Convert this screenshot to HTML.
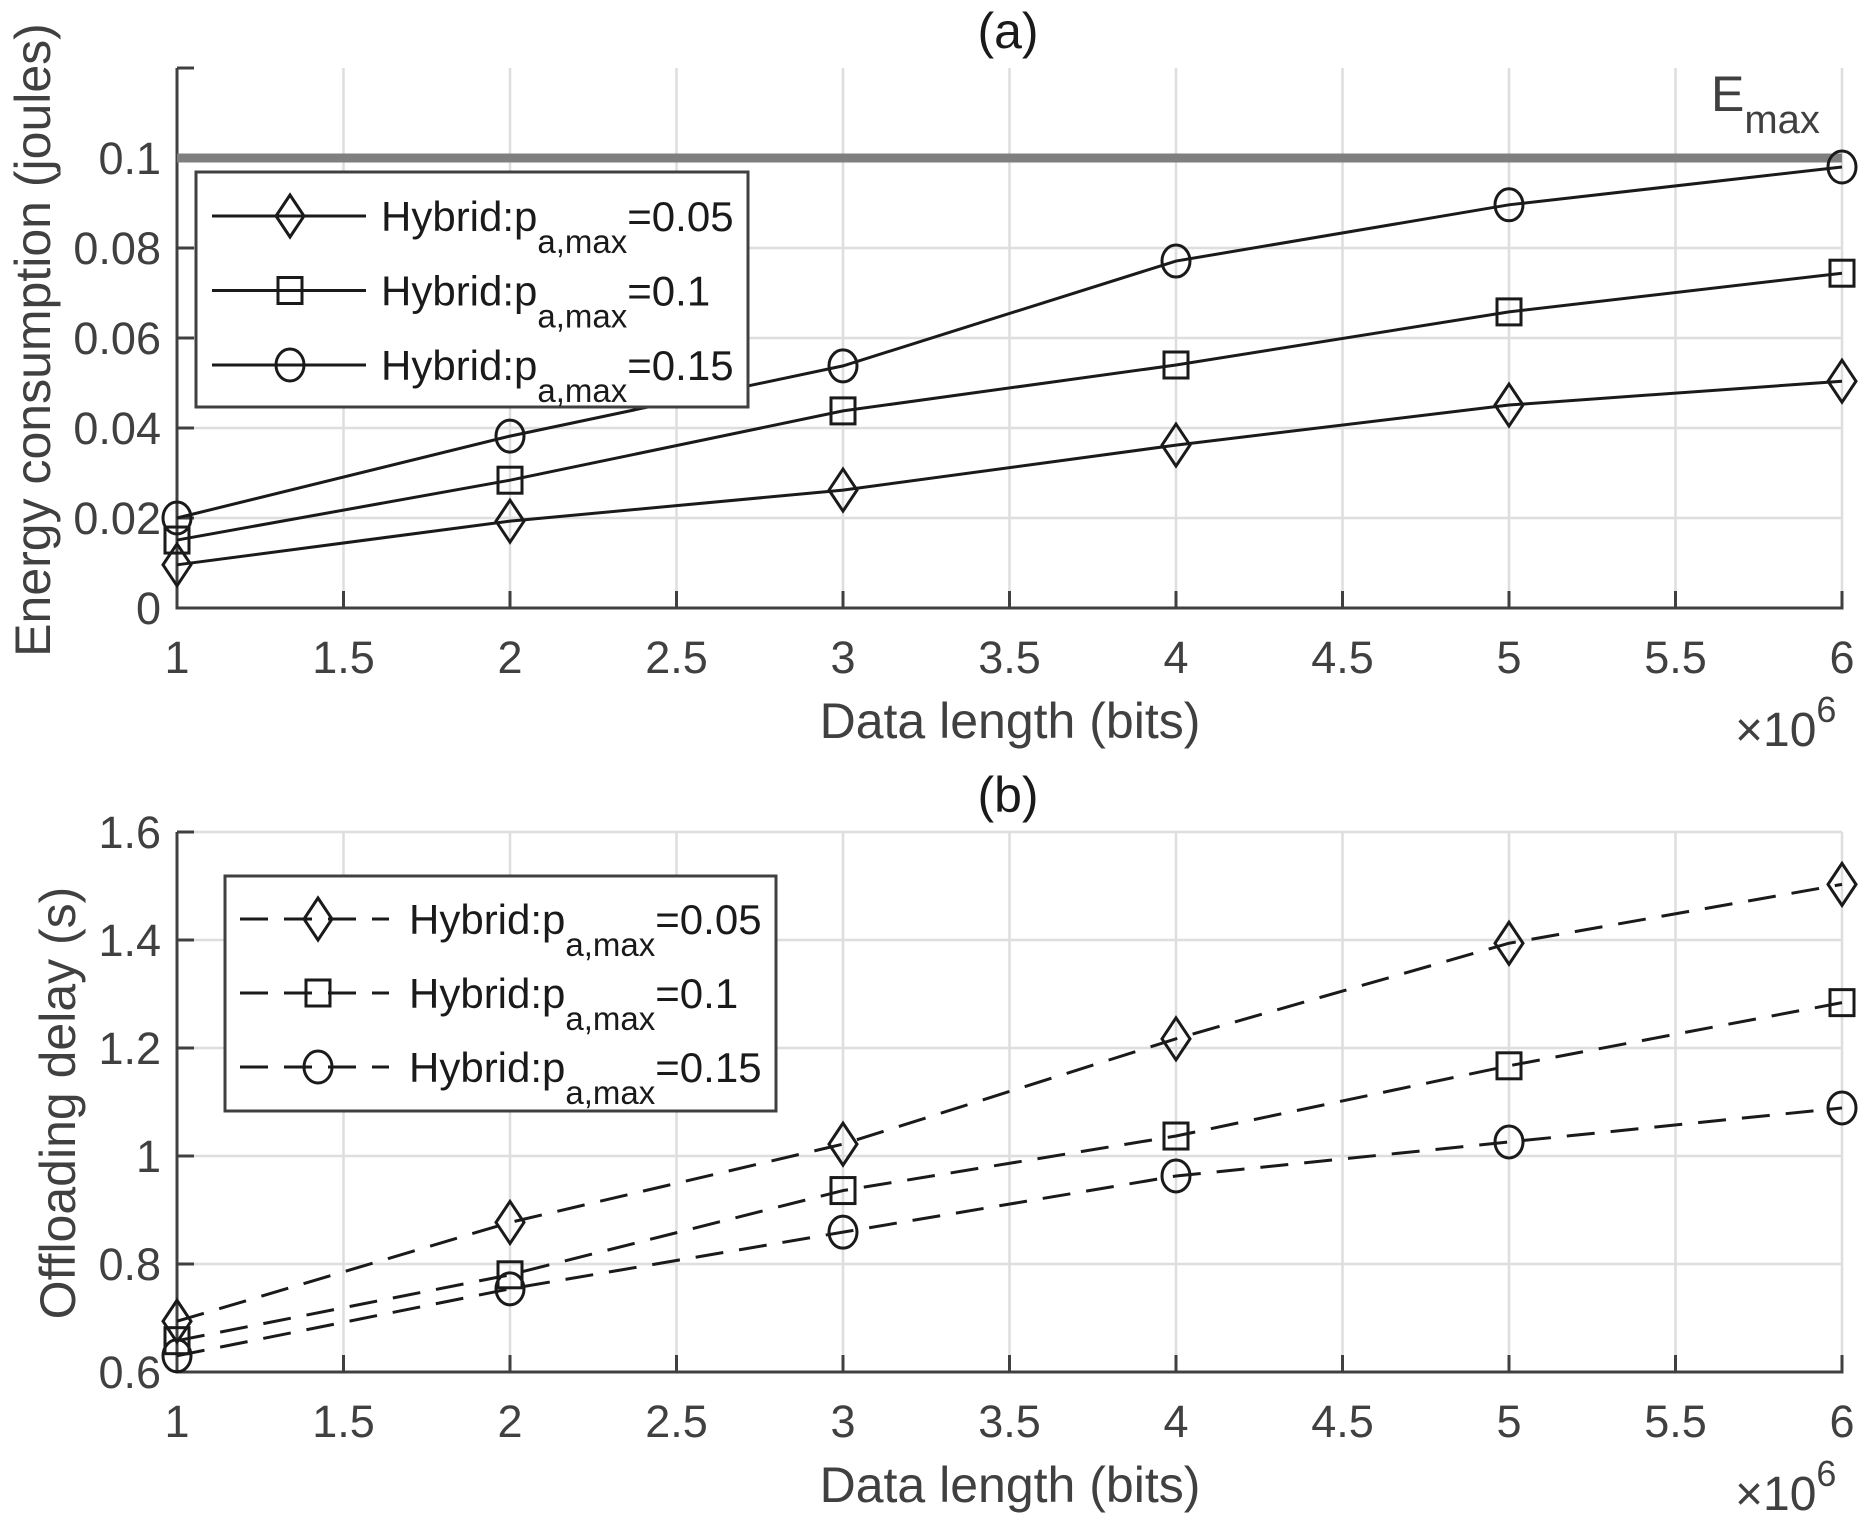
<!DOCTYPE html>
<html><head><meta charset="utf-8">
<style>
html,body{margin:0;padding:0;background:#fff;}
svg{display:block;font-family:"Liberation Sans",Arial,sans-serif;}
</style></head>
<body>
<svg id="fig" width="1866" height="1530" viewBox="0 0 1866 1530" xmlns="http://www.w3.org/2000/svg"></svg>
<script>
const xValues = [1, 2, 3, 4, 5, 6];
const xTicks = [1, 1.5, 2, 2.5, 3, 3.5, 4, 4.5, 5, 5.5, 6];
const xTickLabels = ["1","1.5","2","2.5","3","3.5","4","4.5","5","5.5","6"];
const seriesLabels = ["=0.05", "=0.1", "=0.15"];
const markerTypes = ["diamond", "square", "circle"];
const energyA005 = [0.0096, 0.0193, 0.0262, 0.0362, 0.0451, 0.0504];
const energyA01 = [0.0151, 0.0284, 0.0438, 0.0540, 0.0658, 0.0744];
const energyA015 = [0.0200, 0.0382, 0.0538, 0.0771, 0.0896, 0.0980];
const energyTicks = [0, 0.02, 0.04, 0.06, 0.08, 0.1];
const energyTickLabels = ["0","0.02","0.04","0.06","0.08","0.1"];
const eMax = 0.1;
const delayA005 = [0.694, 0.877, 1.022, 1.217, 1.394, 1.503];
const delayA01 = [0.658, 0.780, 0.936, 1.037, 1.167, 1.284];
const delayA015 = [0.630, 0.754, 0.859, 0.963, 1.026, 1.089];
const delayTicks = [0.6, 0.8, 1, 1.2, 1.4, 1.6];
const delayTickLabels = ["0.6","0.8","1","1.2","1.4","1.6"];

const NS = "http://www.w3.org/2000/svg";
const svg = document.getElementById("fig");
function mk(tag, attrs, parent, text) {
  const e = document.createElementNS(NS, tag);
  for (const k in attrs) e.setAttribute(k, attrs[k]);
  if (text !== undefined) e.textContent = text;
  (parent || svg).appendChild(e);
  return e;
}
const X0 = 177, X1 = 1842;
function xs(v) { return X0 + (v - 1) / 5 * (X1 - X0); }

function marker(g, type, cx, cy) {
  let m;
  if (type === "diamond") m = mk("polygon", {points: `${cx},${cy-21} ${cx+14},${cy} ${cx},${cy+21} ${cx-14},${cy}`, fill: "none", stroke: "#1a1a1a", "stroke-width": 3}, g);
  else if (type === "square") m = mk("rect", {x: cx-12, y: cy-13, width: 24, height: 26, fill: "none", stroke: "#1a1a1a", "stroke-width": 3}, g);
  else m = mk("ellipse", {cx: cx, cy: cy, rx: 14, ry: 16, fill: "none", stroke: "#1a1a1a", "stroke-width": 3}, g);
  return m;
}

function panel(opts) {
  const {top, bot, ymin, ymax, ticks, tickLabels, series, dashed, title, ylabel, legend, name} = opts;
  const ys = v => bot - (v - ymin) / (ymax - ymin) * (bot - top);
  const g = mk("g", {});
  
  
  const grid = mk("g", {stroke: "#dedede", "stroke-width": 2.5}, g);
  
  
  xTicks.forEach(t => mk("line", {x1: xs(t), x2: xs(t), y1: top, y2: bot}, grid));
  ticks.forEach(t => mk("line", {x1: X0, x2: X1, y1: ys(t), y2: ys(t)}, grid));
  const ax = mk("g", {stroke: "#404040", "stroke-width": 3, fill: "none"}, g);
  
  
  mk("line", {x1: X0, x2: X0, y1: top, y2: bot + 1.5}, ax);
  mk("line", {x1: X0 - 1.5, x2: X1 + 1.5, y1: bot, y2: bot}, ax);
  xTicks.forEach(t => mk("line", {x1: xs(t), x2: xs(t), y1: bot, y2: bot - 17}, ax));
  ticks.forEach(t => mk("line", {x1: X0, x2: X0 + 17, y1: ys(t), y2: ys(t)}, ax));
  mk("line", {x1: X0, x2: X0 + 17, y1: top, y2: top}, ax);
  const xl = mk("g", {fill: "#404040", "font-size": 45, "text-anchor": "middle"}, g);
  
  
  xTicks.forEach((t, i) => mk("text", {x: xs(t), y: bot + 65}, xl, xTickLabels[i]));
  const yl = mk("g", {fill: "#404040", "font-size": 45, "text-anchor": "end"}, g);
  
  
  ticks.forEach((t, i) => mk("text", {x: 161, y: ys(t) + 16}, yl, tickLabels[i]));
  const xt = mk("text", {x: 1010, y: bot + 130, "font-size": 50, fill: "#404040", "text-anchor": "middle"}, g, "Data length (bits)");
  
  
  const mult = mk("text", {x: 1735, y: bot + 138, "font-size": 48, fill: "#404040"}, g);
  
  
  mk("tspan", {}, mult, "\u00d710");
  mk("tspan", {"font-size": 36, dy: -24}, mult, "6");
  const yt = mk("text", {x: 0, y: 0, "font-size": 50, fill: "#404040", "text-anchor": "middle", transform: `translate(${opts.ylx},${opts.yly}) rotate(-90)`}, g, ylabel);
  
  
  const tt = mk("text", {x: 1008, y: top - 20, "font-size": 50, fill: "#1a1a1a", "text-anchor": "middle"}, g, title);
  
  
  if (opts.emax !== undefined) {
    const el = mk("line", {x1: X0, x2: X1, y1: ys(opts.emax), y2: ys(opts.emax), stroke: "#7f7f7f", "stroke-width": 9}, g);
    
    
    const et = mk("text", {x: 1711, y: ys(opts.emax) - 47, "font-size": 50, fill: "#404040"}, g);
    
    
    mk("tspan", {}, et, "E");
    mk("tspan", {"font-size": 40, dy: 22}, et, "max");
  }
  series.forEach((vals, si) => {
    const sg = mk("g", {}, g);
    
    
    const pts = vals.map((v, i) => xs(xValues[i]) + "," + ys(v)).join(" ");
    const ln = mk("polyline", {points: pts, fill: "none", stroke: "#1a1a1a", "stroke-width": 3, "stroke-dasharray": dashed ? "28 16" : "none"}, sg);
    
    
    vals.forEach((v, i) => {
      const m = marker(sg, markerTypes[si], xs(xValues[i]), ys(v));
      
      
    });
  });
  const L = legend;
  const lg = mk("g", {}, g);
  
  
  mk("rect", {x: L.x, y: L.y, width: L.w, height: L.h, fill: "#fff", stroke: "#404040", "stroke-width": 3}, lg);
  seriesLabels.forEach((lab, i) => {
    const e = mk("g", {}, lg);
    
    
    const ry = L.rowY + i * L.rowGap;
    mk("line", {x1: L.l1, x2: L.l2, y1: ry, y2: ry, stroke: "#1a1a1a", "stroke-width": 3, "stroke-dasharray": dashed ? "28 16" : "none"}, e);
    marker(e, markerTypes[i], L.mx, ry);
    const t = mk("text", {x: L.tx, y: ry + 15, "font-size": 42, fill: "#1a1a1a"}, e);
    mk("tspan", {}, t, "Hybrid:p");
    mk("tspan", {"font-size": 33, dy: 22}, t, "a,max");
    mk("tspan", {dy: -22}, t, lab);
  });
}

panel({name: "energy-chart", top: 68, bot: 608, ymin: 0, ymax: 0.12, ticks: energyTicks, tickLabels: energyTickLabels,
  series: [energyA005, energyA01, energyA015], dashed: false, title: "(a)", ylabel: "Energy consumption (joules)",
  ylx: 50, yly: 340, emax: eMax,
  legend: {x: 196, y: 172, w: 552, h: 235, rowY: 216, rowGap: 74.5, l1: 212, l2: 366, mx: 290, tx: 381}});
panel({name: "delay-chart", top: 832, bot: 1372, ymin: 0.6, ymax: 1.6, ticks: delayTicks, tickLabels: delayTickLabels,
  series: [delayA005, delayA01, delayA015], dashed: true, title: "(b)", ylabel: "Offloading delay (s)",
  ylx: 75, yly: 1103,
  legend: {x: 225, y: 876, w: 551, h: 235, rowY: 919, rowGap: 74, l1: 240, l2: 389, mx: 318, tx: 409}});
</script>
</body></html>
